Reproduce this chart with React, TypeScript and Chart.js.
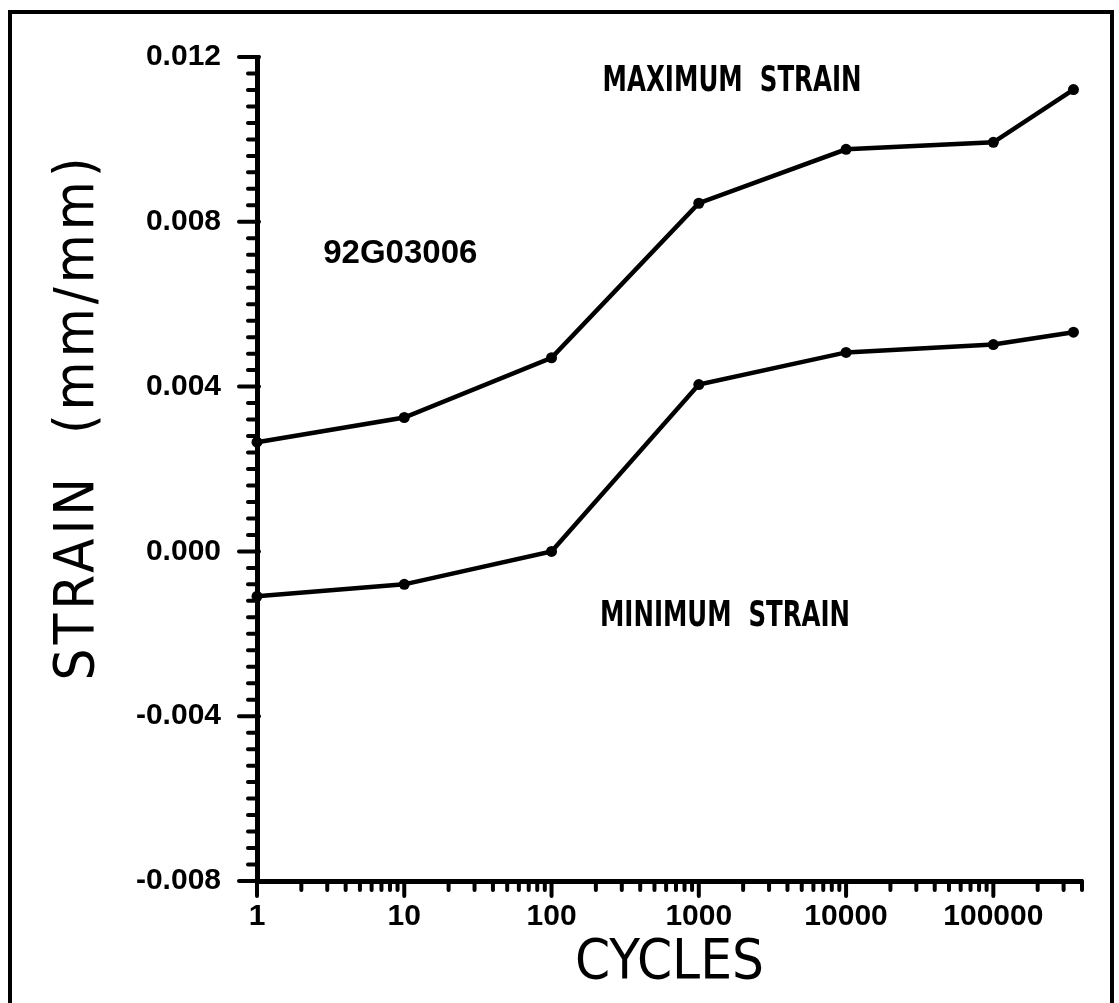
import React, { useEffect, useRef } from 'react';
import { Chart, registerables } from 'chart.js';

Chart.register(...registerables);

// ---- data ----
const cycles = [1, 10, 100, 1000, 10000, 100000, 350000];
const maxStrain = [0.00265, 0.00325, 0.0047, 0.00845, 0.00976, 0.00993, 0.01121];
const minStrain = [-0.00109, -0.0008, 0.0, 0.00405, 0.00483, 0.00502, 0.00532];

const xMin = 1;
const xMax = 400000;
const xMajorTicks = [1, 10, 100, 1000, 10000, 100000];
const xMinorMultipliers = [2, 3, 4, 5, 6, 7, 8, 9];

const yMin = -0.008;
const yMax = 0.012;
const yMajorTicks = [-0.008, -0.004, 0, 0.004, 0.008, 0.012];
const yMinorStep = 0.0004;

const xTitle = 'CYCLES';
const yTitle = 'STRAIN  (mm/mm)';
const specimenLabel = '92G03006';
const maxLabel = 'MAXIMUM  STRAIN';
const minLabel = 'MINIMUM  STRAIN';

// annotation anchors (in data units) and target widths
const notes = [
  { text: maxLabel, x: 1683, y: 0.0114, kind: 'narrow', width: 259 },
  { text: minLabel, x: 1507, y: -0.0016, kind: 'narrow', width: 250 },
  { text: specimenLabel, x: 9.4, y: 0.00723, kind: 'bold', width: 0 },
];

const SANS = '"Liberation Sans", Arial, Helvetica, sans-serif';
const NARROW = '"Liberation Sans Narrow", "Arial Narrow", "DejaVu Sans Condensed", sans-serif';

const near = (a: number, b: number) => Math.abs(a - b) < 1e-9;

const xTickValues: number[] = [];
xMajorTicks.forEach((d) => {
  xTickValues.push(d);
  xMinorMultipliers.forEach((m) => {
    const v = d * m;
    if (v <= xMax) xTickValues.push(v);
  });
});

const yTickValues: number[] = [];
for (let i = 0; i <= Math.round((yMax - yMin) / yMinorStep); i++) {
  yTickValues.push(Math.round((yMin + i * yMinorStep) * 1e7) / 1e7);
}

const tickPlugin = {
  id: 'tickMarks',
  afterDraw(chart: any) {
    const { ctx, chartArea } = chart;
    const xs = chart.scales.x;
    const ys = chart.scales.y;
    ctx.save();
    ctx.strokeStyle = '#000';
    ctx.lineWidth = 4;
    ctx.lineCap = 'round';
    ys.ticks.forEach((t: any) => {
      const py = ys.getPixelForValue(t.value);
      const major = yMajorTicks.some((v) => near(v, t.value));
      const len = major ? 18 : 9;
      ctx.beginPath();
      ctx.moveTo(chartArea.left - len, py);
      ctx.lineTo(chartArea.left + (major ? 2 : 0), py);
      ctx.stroke();
    });
    xs.ticks.forEach((t: any) => {
      const px = xs.getPixelForValue(t.value);
      const major = xMajorTicks.some((v) => near(v, t.value));
      const len = major ? 15 : 9;
      ctx.beginPath();
      ctx.moveTo(px, chartArea.bottom);
      ctx.lineTo(px, chartArea.bottom + len);
      ctx.stroke();
    });
    ctx.restore();
  },
};

const textPlugin = {
  id: 'textNotes',
  afterDraw(chart: any) {
    const { ctx, chartArea } = chart;
    const xs = chart.scales.x;
    const ys = chart.scales.y;
    ctx.save();
    ctx.fillStyle = '#000';
    ctx.textAlign = 'center';
    ctx.textBaseline = 'middle';
    notes.forEach((n) => {
      ctx.save();
      ctx.font = n.kind === 'narrow' ? `bold 35px ${NARROW}` : `bold 33px ${SANS}`;
      const px = xs.getPixelForValue(n.x);
      const py = ys.getPixelForValue(n.y);
      ctx.translate(px, py);
      if (n.width) {
        const w = ctx.measureText(n.text).width;
        ctx.scale(n.width / w, 1);
      }
      ctx.fillText(n.text, 0, 0);
      ctx.restore();
    });
    // vertical axis title
    ctx.translate(78, (chartArea.top + chartArea.bottom) / 2 - 52);
    ctx.rotate(-Math.PI / 2);
    ctx.font = `56px ${NARROW}`;
    try { (ctx as any).letterSpacing = '4px'; } catch (e) {}
    ctx.fillText(yTitle, 0, 0);
    ctx.restore();
  },
};

export default function App() {
  const ref = useRef<HTMLCanvasElement>(null);

  useEffect(() => {
    const seriesStyle = {
      borderColor: '#000',
      backgroundColor: '#000',
      borderWidth: 4.5,
      pointRadius: 5.5,
      pointBackgroundColor: '#000',
      pointBorderWidth: 0,
      tension: 0,
      clip: false as any,
    };
    const chart = new Chart(ref.current!, {
      type: 'line',
      data: {
        datasets: [
          { label: 'Maximum strain', data: cycles.map((c, i) => ({ x: c, y: maxStrain[i] })), ...seriesStyle },
          { label: 'Minimum strain', data: cycles.map((c, i) => ({ x: c, y: minStrain[i] })), ...seriesStyle },
        ],
      },
      options: {
        animation: false,
        responsive: false,
        events: [],
        layout: { padding: { top: 57, right: 37, left: 0, bottom: 0 } },
        plugins: { legend: { display: false }, tooltip: { enabled: false } },
        scales: {
          x: {
            type: 'logarithmic',
            min: xMin,
            max: xMax,
            afterBuildTicks: (scale: any) => {
              scale.ticks = xTickValues.map((v) => ({ value: v }));
            },
            afterFit: (scale: any) => {
              scale.height = 122;
            },
            grid: { display: true, drawOnChartArea: false, drawTicks: false, color: 'rgba(0,0,0,0)', lineWidth: 1 },
            border: { display: true, color: '#000', width: 5 },
            ticks: {
              autoSkip: false,
              maxRotation: 0,
              minRotation: 0,
              padding: 18,
              color: '#000',
              font: { family: SANS, size: 30, weight: 'bold' },
              callback: (value: any) => (xMajorTicks.some((v) => near(v, Number(value))) ? String(value) : ''),
            },
            title: {
              display: true,
              text: xTitle,
              color: '#000',
              font: { family: NARROW, size: 56, lineHeight: 1 },
              padding: { top: 0, bottom: 12 },
            },
          },
          y: {
            type: 'linear',
            min: yMin,
            max: yMax,
            afterBuildTicks: (scale: any) => {
              scale.ticks = yTickValues.map((v) => ({ value: v }));
            },
            afterFit: (scale: any) => {
              scale.width = 257;
            },
            grid: { display: true, drawOnChartArea: false, drawTicks: false, color: 'rgba(0,0,0,0)', lineWidth: 1 },
            border: { display: true, color: '#000', width: 5 },
            ticks: {
              autoSkip: false,
              padding: 36,
              color: '#000',
              font: { family: SANS, size: 30, weight: 'bold' },
              callback: (value: any) => {
                const v = Number(value);
                if (!yMajorTicks.some((m) => near(m, v))) return '';
                return (Math.abs(v) < 1e-9 ? 0 : v).toFixed(3);
              },
            },
          },
        },
      },
      plugins: [tickPlugin, textPlugin],
    });
    return () => chart.destroy();
  }, []);

  return (
    <div style={{ position: 'absolute', left: 0, top: 0, width: 1119, height: 1003, background: '#fff', overflow: 'hidden' }}>
      <canvas ref={ref} width={1119} height={1003} style={{ display: 'block', width: 1119, height: 1003 }} />
      <div
        style={{
          position: 'absolute',
          left: 8,
          top: 10,
          width: 1106,
          height: 1100,
          border: '4px solid #000',
          boxSizing: 'border-box',
          pointerEvents: 'none',
        }}
      />
    </div>
  );
}
